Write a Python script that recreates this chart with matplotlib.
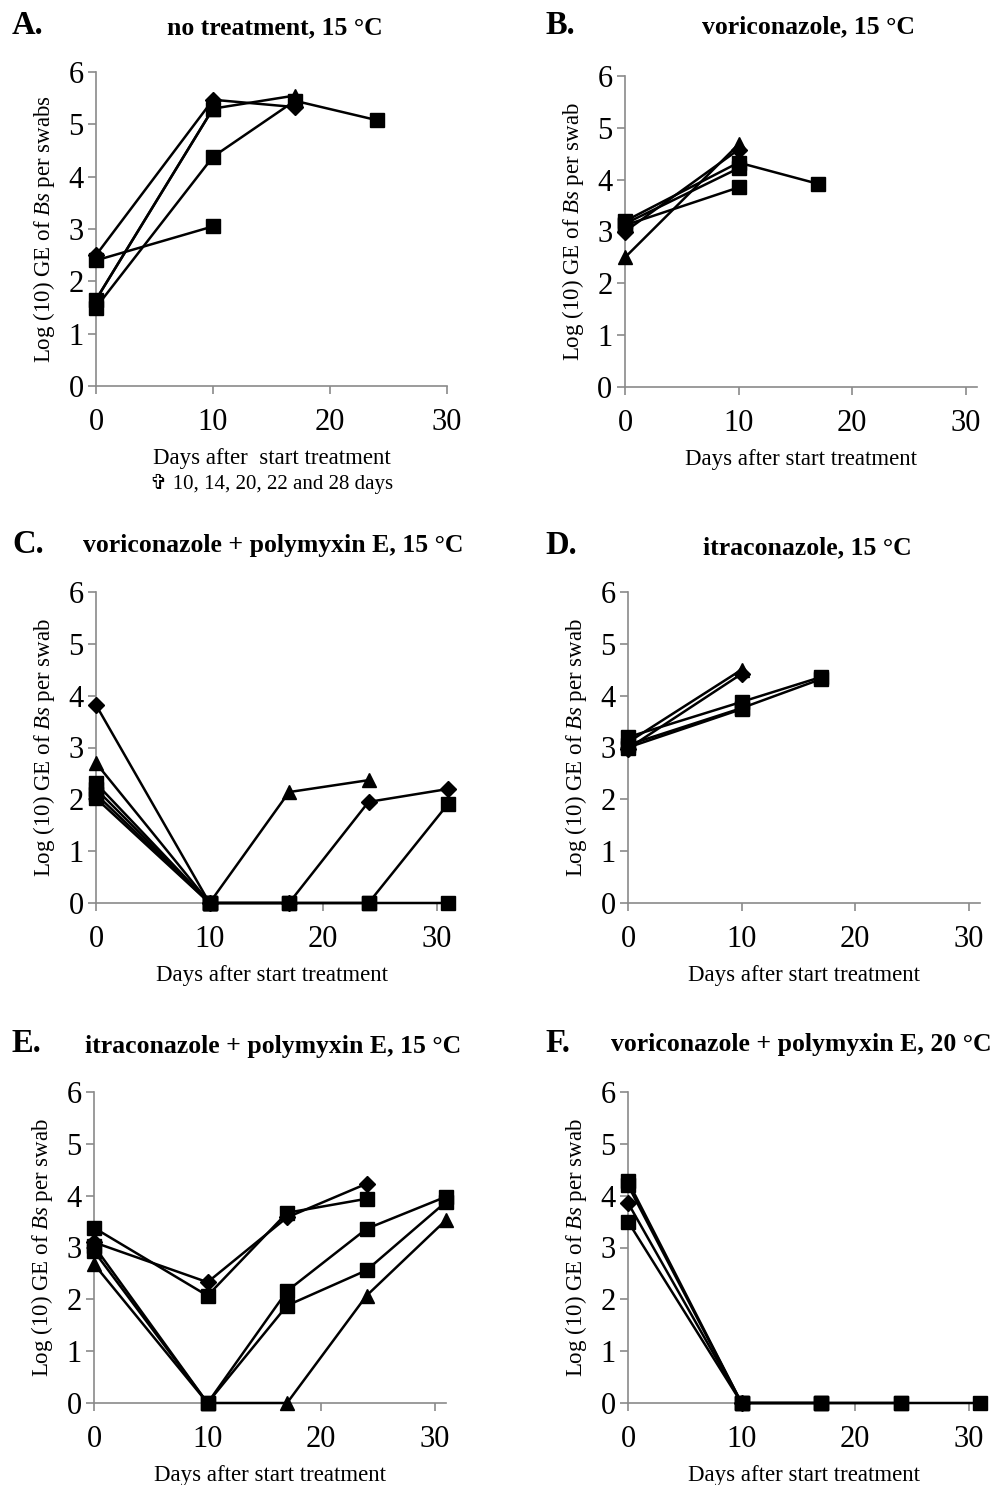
import matplotlib
matplotlib.use("Agg")
import matplotlib.pyplot as plt

plt.rcParams['font.family'] = ['Liberation Serif', 'DejaVu Serif']
plt.rcParams['mathtext.fontset'] = 'custom'
plt.rcParams['mathtext.rm'] = 'Liberation Serif'
plt.rcParams['mathtext.it'] = 'Liberation Serif:italic'

# ---- data (days after start treatment, log10 GE per swab) ----
a_x = [[0, 10, 17], [0, 10], [0, 10, 17], [0, 10, 17, 24], [0, 10]]
a_y = [[2.5, 5.47, 5.33], [2.4, 3.05], [1.65, 5.3, 5.55], [1.5, 4.38, 5.45, 5.08], [1.65, 5.3]]
a_mk = ['D', 's', '^', 's', 's']

b_x = [[0, 10], [0, 10, 17], [0, 10], [0, 10], [0, 10]]
b_y = [[3.0, 4.58], [3.2, 4.33, 3.92], [2.5, 4.68], [3.15, 4.22], [3.12, 3.85]]
b_mk = ['D', 's', '^', 's', 's']

c_x = [[0, 10, 17, 24, 31], [0, 10, 17, 24, 31], [0, 10, 17, 24], [0, 10, 17, 24, 31], [0, 10], [0, 10]]
c_y = [[3.82, 0, 0, 1.95, 2.2], [2.31, 0, 0, 0, 1.91], [2.7, 0, 2.14, 2.37], [2.2, 0, 0, 0, 0], [2.1, 0], [2.02, 0]]
c_mk = ['D', 's', '^', 's', 's', 's']

d_x = [[0, 10], [0, 10, 17], [0, 10], [0, 10, 17], [0, 10]]
d_y = [[2.98, 4.42], [3.2, 3.88, 4.36], [3.1, 4.5], [3.05, 3.76, 4.32], [3.0, 3.74]]
d_mk = ['D', 's', '^', 's', 's']

e_x = [[0, 10, 17, 24], [0, 10, 17, 24], [0, 10, 17, 24, 31], [0, 10, 17, 24, 31], [0, 10, 17, 24, 31]]
e_y = [[3.1, 2.33, 3.58, 4.23], [3.38, 2.07, 3.67, 3.94], [2.68, 0, 0, 2.07, 3.53],
       [3.03, 0, 2.16, 3.36, 3.98], [2.93, 0, 1.88, 2.56, 3.88]]
e_mk = ['D', 's', '^', 's', 's']

f_x = [[0, 10], [0, 10, 17, 24, 31], [0, 10, 17, 24], [0, 10, 17]]
f_y = [[3.86, 0], [4.28, 0, 0, 0, 0], [4.2, 0, 0, 0], [3.5, 0, 0]]
f_mk = ['D', 's', 's', 's']

titles = ['no treatment, 15 °C', 'voriconazole, 15 °C', 'voriconazole + polymyxin E, 15 °C',
          'itraconazole, 15 °C', 'itraconazole + polymyxin E, 15 °C', 'voriconazole + polymyxin E, 20 °C']
letters = ['A.', 'B.', 'C.', 'D.', 'E.', 'F.']

W, H = 991, 1485
fig = plt.figure(figsize=(W / 100, H / 100), dpi=100)
fig.patch.set_facecolor('white')


def box(l, t, r, b):
    return [l / W, 1 - b / H, (r - l) / W, (b - t) / H]


grey = '#8a8a8a'
msize = {'D': 8.5, 's': 9.5, '^': 10}


def panel(rect, xs, ys, mks, xmax, ylab):
    ax = fig.add_axes(box(*rect))
    # squares last so they sit on top, as in the original
    for x, y, m in sorted(zip(xs, ys, mks), key=lambda t: t[2] == 's'):
        ax.plot(x, y, color='black', lw=1.8, marker=m, ms=msize[m],
                mfc='black', mec='black', clip_on=False, zorder=3)
    ax.set_xlim(0, xmax)
    ax.set_ylim(0, 6)
    ax.set_xticks([0, 10, 20, 30])
    ax.set_yticks(range(7))
    for s in ['top', 'right']:
        ax.spines[s].set_visible(False)
    for s in ['left', 'bottom']:
        ax.spines[s].set_color(grey)
        ax.spines[s].set_linewidth(1.2)
    ax.tick_params(axis='both', colors=grey, labelcolor='black', labelsize=22,
                   length=6, width=1.2, direction='out')
    ax.tick_params(axis='x', pad=10)
    ax.tick_params(axis='y', pad=3)
    ax.set_ylabel(ylab, fontsize=16.5, labelpad=8)
    return ax


ylab = 'Log (10) GE of $\\mathit{Bs}$ per swab'
axA = panel((96, 72, 447, 386), a_x, a_y, a_mk, 30, ylab + 's')
axB = panel((625, 76, 977, 387), b_x, b_y, b_mk, 31, ylab)
axC = panel((96, 592, 448, 903), c_x, c_y, c_mk, 31, ylab)
axD = panel((628, 592, 980, 903), d_x, d_y, d_mk, 31, ylab)
axE = panel((94, 1092, 446, 1403), e_x, e_y, e_mk, 31, ylab)
axF = panel((628, 1092, 980, 1403), f_x, f_y, f_mk, 31, ylab)

axA.set_xlabel('Days after  start treatment', fontsize=16.5, labelpad=8)
for ax in [axB, axC, axD, axE, axF]:
    ax.set_xlabel('Days after start treatment', fontsize=16.5, labelpad=8)

fig.text(272 / W, 1 - 484 / H, '\u271e 10, 14, 20, 22 and 28 days', fontsize=15,
         ha='center', va='center', family=['Liberation Serif', 'DejaVu Sans'])

title_pos = [(275, 28), (808, 27), (273, 546), (807, 548), (273, 1046), (801, 1045)]
letter_pos = [(12, 26), (545, 26), (12, 544), (545, 546), (12, 1044), (545, 1044)]
for t, (x, y) in zip(titles, title_pos):
    fig.text(x / W, 1 - y / H, t, fontsize=18.5, fontweight='bold', ha='center', va='center')
for t, (x, y) in zip(letters, letter_pos):
    fig.text(x / W, 1 - y / H, t, fontsize=23.5, fontweight='bold', ha='left', va='center')

fig.savefig('out.png', dpi=100, facecolor='white')
